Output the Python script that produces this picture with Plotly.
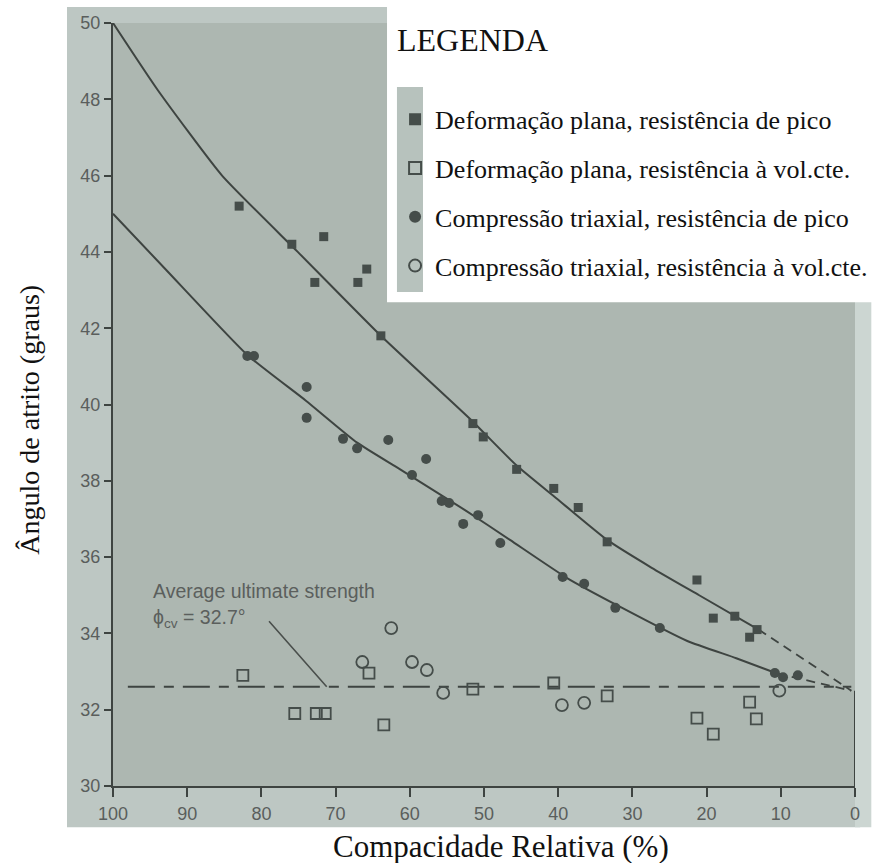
import plotly.graph_objects as go

# ---------------- data ----------------
# Deformação plana, resistência de pico (filled squares)
fs_x = [83.0, 75.9, 71.6, 72.8, 65.8, 67.0, 63.9, 51.5, 50.1, 45.6, 40.6, 37.3, 33.4, 21.3, 19.1, 16.2, 13.2, 14.2]
fs_y = [45.2, 44.2, 44.4, 43.2, 43.55, 43.2, 41.8, 39.5, 39.15, 38.3, 37.8, 37.3, 36.4, 35.4, 34.4, 34.45, 34.1, 33.9]

# Deformação plana, resistência à vol.cte. (open squares)
os_x = [82.5, 75.5, 72.6, 71.4, 65.5, 63.5, 51.5, 40.6, 33.4, 21.3, 19.1, 14.2, 13.3]
os_y = [32.9, 31.9, 31.9, 31.9, 32.96, 31.6, 32.54, 32.7, 32.36, 31.78, 31.36, 32.2, 31.76]

# Compressão triaxial, resistência de pico (filled circles)
fc_x = [81.9, 81.0, 73.9, 73.9, 69.0, 67.1, 62.9, 57.8, 59.7, 55.7, 54.7, 50.8, 52.8, 47.8,
        39.4, 36.5, 32.3, 26.3, 10.8, 9.7, 7.7]
fc_y = [41.27, 41.27, 40.46, 39.65, 39.1, 38.85, 39.07, 38.57, 38.15, 37.47, 37.42, 37.1, 36.87, 36.37,
        35.48, 35.3, 34.67, 34.14, 32.96, 32.85, 32.9]

# Compressão triaxial, resistência à vol.cte. (open circles)
oc_x = [66.4, 62.5, 59.7, 57.7, 55.5, 39.5, 36.5, 10.2]
oc_y = [33.25, 34.14, 33.25, 33.04, 32.44, 32.12, 32.18, 32.5]

# fitted curves
upper_x = [100, 94.0, 85.3, 75.1, 63.9, 51.5, 45.6, 40.3, 33.4, 27.4, 21.0, 13]
upper_y = [50, 48.25, 46.0, 44.0, 41.8, 39.55, 38.4, 37.55, 36.45, 35.72, 35.0, 34.1]
upper_ext_x = [13, 0.5]
upper_ext_y = [34.1, 32.5]

lower_x = [100, 92.7, 81.9, 74, 67.1, 61.3, 52.3, 46.5, 38.8, 31.7, 22.6, 16, 10.5]
lower_y = [45.0, 43.5, 41.3, 40.1, 39.0, 38.3, 37.2, 36.45, 35.45, 34.7, 33.8, 33.35, 32.95]
lower_ext_x = [10.5, 0.5]
lower_ext_y = [32.95, 32.5]

avg_x = [98, 0.5]
avg_y = [32.6, 32.6]

x_ticks = [100, 90, 80, 70, 60, 50, 40, 30, 20, 10, 0]
y_ticks = [30, 32, 34, 36, 38, 40, 42, 44, 46, 48, 50]

legend_names = [
    "Deformação plana, resistência de pico",
    "Deformação plana, resistência à vol.cte.",
    "Compressão triaxial, resistência de pico",
    "Compressão triaxial, resistência à vol.cte.",
]

# ---------------- styling ----------------
DARK = "#454d4a"
LINE = "#3e4441"
BAND = "#bdc7c3"
PLOT = "#adb7b1"
SERIF = "Liberation Serif, Times New Roman, serif"
SANS = "Liberation Sans, Arial, sans-serif"

fig = go.Figure()

curve_line = dict(color=LINE, width=2, shape="spline", smoothing=0.5)
dash_line = dict(color=LINE, width=1.8, dash="9px,6px")

fig.add_trace(go.Scatter(x=upper_x, y=upper_y, mode="lines", line=curve_line, showlegend=False, hoverinfo="skip"))
fig.add_trace(go.Scatter(x=upper_ext_x, y=upper_ext_y, mode="lines", line=dash_line, showlegend=False, hoverinfo="skip"))
fig.add_trace(go.Scatter(x=lower_x, y=lower_y, mode="lines", line=curve_line, showlegend=False, hoverinfo="skip"))
fig.add_trace(go.Scatter(x=lower_ext_x, y=lower_ext_y, mode="lines", line=dash_line, showlegend=False, hoverinfo="skip"))
fig.add_trace(go.Scatter(x=avg_x, y=avg_y, mode="lines", line=dict(color=LINE, width=2, dash="27px,9px,10px,9px"),
                         showlegend=False, hoverinfo="skip"))

# markers
fig.add_trace(go.Scatter(x=fs_x, y=fs_y, mode="markers", name=legend_names[0], legendgroup="a",
                         marker=dict(symbol="square", size=9, color=DARK, line=dict(width=0))))
fig.add_trace(go.Scatter(x=os_x, y=os_y, mode="markers", name=legend_names[1], legendgroup="b",
                         marker=dict(symbol="square-open", size=11, color=DARK, line=dict(width=1.8, color=DARK))))
fig.add_trace(go.Scatter(x=fc_x, y=fc_y, mode="markers", name=legend_names[2], legendgroup="c",
                         marker=dict(symbol="circle", size=10, color=DARK, line=dict(width=0))))
fig.add_trace(go.Scatter(x=oc_x, y=oc_y, mode="markers", name=legend_names[3], legendgroup="d",
                         marker=dict(symbol="circle-open", size=12, color=DARK, line=dict(width=1.8, color=DARK))))

shapes = [
    # scanned page band
    dict(type="rect", xref="paper", yref="paper", x0=-0.062, x1=1.007, y0=-0.054, y1=1.021,
         fillcolor=BAND, line=dict(width=0), layer="below"),
    dict(type="rect", xref="paper", yref="paper", x0=1.0, x1=1.022, y0=-0.054, y1=1.021,
         fillcolor="#ccd6d2", line=dict(width=0), layer="below"),
    dict(type="rect", xref="paper", yref="paper", x0=0, x1=1, y0=0, y1=1,
         fillcolor=PLOT, line=dict(width=0), layer="below"),
    # right frame stub
    dict(type="line", xref="x", yref="y", x0=0, x1=0, y0=30, y1=32.5, line=dict(color=LINE, width=2)),
    # legend box
    dict(type="rect", xref="paper", yref="paper", x0=0.3693, x1=1.03, y0=0.634, y1=1.024,
         fillcolor="white", line=dict(width=0), layer="above"),
    dict(type="rect", xref="paper", yref="paper", x0=0.3827, x1=0.4178, y0=0.6474, y1=0.916,
         fillcolor="#b7c2bd", line=dict(width=0), layer="above"),
]

annotations = [
    dict(text="LEGENDA", xref="paper", yref="paper", x=0.3800, y=0.9775, xanchor="left", yanchor="middle",
         showarrow=False, font=dict(family=SERIF, size=32, color="#111")),
    dict(text="Average ultimate strength", xref="x", yref="y", x=94.9, y=35.1, xanchor="left", yanchor="middle",
         showarrow=False, font=dict(family=SANS, size=19.5, color="#5b5f5d")),
    dict(text="ϕ<sub>cv</sub> = 32.7°", xref="x", yref="y", x=94.9, y=34.4, xanchor="left", yanchor="middle",
         showarrow=False, font=dict(family=SANS, size=19.5, color="#5b5f5d")),
    dict(text="", xref="x", yref="y", x=71.2, y=32.6, ax=-59, ay=-67,
         showarrow=True, arrowhead=0, arrowwidth=1.6, arrowcolor="#4a4f4c"),
    # axis titles
    dict(text="Compacidade Relativa (%)", xref="paper", yref="paper", x=0.523, y=-0.079,
         xanchor="center", yanchor="middle", showarrow=False, font=dict(family=SERIF, size=31, color="#111")),
    dict(text="Ângulo de atrito (graus)", xref="paper", yref="paper", x=-0.112, y=0.48, textangle=-90,
         xanchor="center", yanchor="middle", showarrow=False, font=dict(family=SERIF, size=28, color="#111")),
]

fig.update_layout(
    width=876, height=863,
    margin=dict(l=113, r=21, t=23, b=77, autoexpand=False),
    paper_bgcolor="white", plot_bgcolor="rgba(0,0,0,0)",
    shapes=shapes, annotations=annotations,
    legend=dict(xref="container", yref="container", x=0.451, y=0.889, xanchor="left", yanchor="top",
                bgcolor="rgba(0,0,0,0)", font=dict(family=SERIF, size=26, color="#111"),
                traceorder="grouped", tracegroupgap=12, itemsizing="constant"),
    xaxis=dict(range=[100, 0], tickvals=x_ticks, ticks="outside", ticklen=9, tickwidth=1.5, tickcolor=LINE,
               showline=True, linecolor=LINE, linewidth=2, showgrid=False, zeroline=False, automargin=False,
               tickfont=dict(family=SANS, size=18, color="#5a5e5c"), ticklabelstandoff=1),
    yaxis=dict(range=[30, 50], tickvals=y_ticks, ticks="outside", ticklen=7, tickwidth=1.5, tickcolor=LINE,
               showline=True, linecolor=LINE, linewidth=2, showgrid=False, zeroline=False, automargin=False,
               tickfont=dict(family=SANS, size=18, color="#5a5e5c")),
)

fig.write_html("out.html")
